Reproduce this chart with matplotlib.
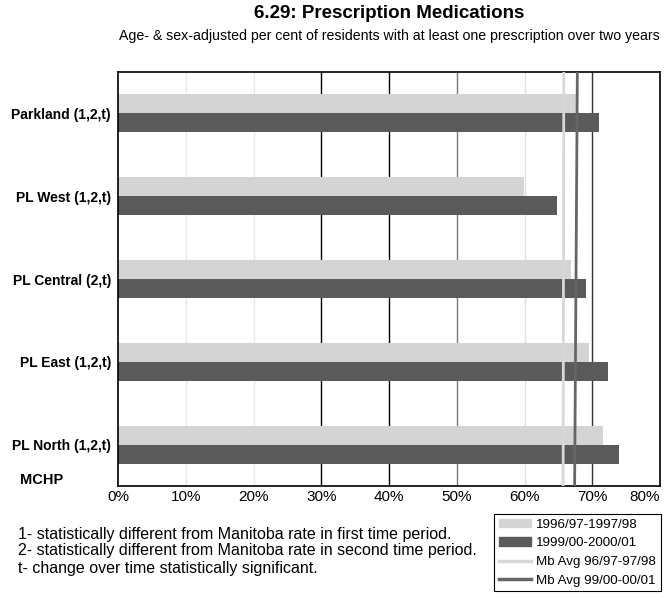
import matplotlib.pyplot as plt
from matplotlib.patches import Patch
from matplotlib.lines import Line2D

plt.rcParams['font.family'] = ['Liberation Sans', 'DejaVu Sans']

# region rates, per cent
regions = ["Parkland (1,2,t)", "PL West (1,2,t)", "PL Central (2,t)",
           "PL East (1,2,t)", "PL North (1,2,t)"]
rate_9698 = [67.8, 59.9, 66.9, 69.5, 71.6]
rate_9901 = [71.0, 64.8, 69.1, 72.3, 74.0]

# Manitoba averages (value at top and bottom of the plot)
mb_avg_9698 = [65.8, 65.7]
mb_avg_9901 = [67.8, 67.4]

xticks = [0, 10, 20, 30, 40, 50, 60, 70, 80]
grid_colors = ['#e8e8e8', '#e8e8e8', '#000000', '#000000', '#777777',
               '#e0e0e0', '#333333']

light = '#d4d4d4'
dark = '#5a5a5a'

fig = plt.figure(figsize=(6.68, 6.02), dpi=100)
ax = fig.add_axes([118/668, 1 - 486/602, 542/668, 414/602])

ypos = list(range(len(regions)))
h = 0.23
ax.barh([y - h/2 for y in ypos], rate_9698, height=h, color=light, zorder=2)
ax.barh([y + h/2 for y in ypos], rate_9901, height=h, color=dark, zorder=2)

ylim = (len(regions) - 0.5, -0.5)
ax.plot(mb_avg_9698, [ylim[1], ylim[0]], color='#d8d8d8', lw=2, zorder=3)
ax.plot(mb_avg_9901, [ylim[1], ylim[0]], color='#666666', lw=2, zorder=3)

for xv, c in zip(xticks[1:-1], grid_colors):
    ax.axvline(xv, color=c, lw=1, zorder=1)

ax.set_xlim(0, 80)
ax.set_ylim(*ylim)
ax.set_xticks(xticks)
ax.set_xticklabels([f"{v}%" for v in xticks], fontsize=11)
ax.tick_params(axis='x', length=0, pad=3)
ax.set_yticks(ypos)
ax.set_yticklabels(regions, fontsize=10, fontweight='bold')
ax.tick_params(axis='y', length=0, pad=5)
for s in ax.spines.values():
    s.set_linewidth(1.2)
# keep the last tick label inside the figure
ax.get_xticklabels()[-1].set_horizontalalignment('right')
ax.get_xticklabels()[-1].set_x(80)

fig.text(389/668, 1 - 14/602, "6.29: Prescription Medications", ha='center',
         va='center', fontsize=13.5, fontweight='bold')
fig.text(389/668, 1 - 36/602,
         "Age- & sex-adjusted per cent of residents with at least one prescription over two years",
         ha='center', va='center', fontsize=10.2)
fig.text(20/668, 1 - 480/602, "MCHP", ha='left', va='center',
         fontsize=10.5, fontweight='bold')

notes = ["1- statistically different from Manitoba rate in first time period.",
         "2- statistically different from Manitoba rate in second time period.",
         "t- change over time statistically significant."]
for i, n in enumerate(notes):
    fig.text(18/668, 1 - (534 + 17*i)/602, n, ha='left', va='center', fontsize=11.5)

handles = [Patch(color=light), Patch(color=dark),
           Line2D([], [], color='#d8d8d8', lw=2.5),
           Line2D([], [], color='#666666', lw=2.5)]
labels = ["1996/97-1997/98", "1999/00-2000/01", "Mb Avg 96/97-97/98", "Mb Avg 99/00-00/01"]
leg = fig.legend(handles, labels, loc='upper left',
                 bbox_to_anchor=(494/668, 1 - 514/602), fontsize=9.6,
                 fancybox=False, edgecolor='black', framealpha=1,
                 handlelength=2.4, handleheight=0.6, handletextpad=0.4,
                 labelspacing=0.5, borderpad=0.35, borderaxespad=0)
leg.get_frame().set_linewidth(0.8)

fig.savefig("out.png", dpi=100)
